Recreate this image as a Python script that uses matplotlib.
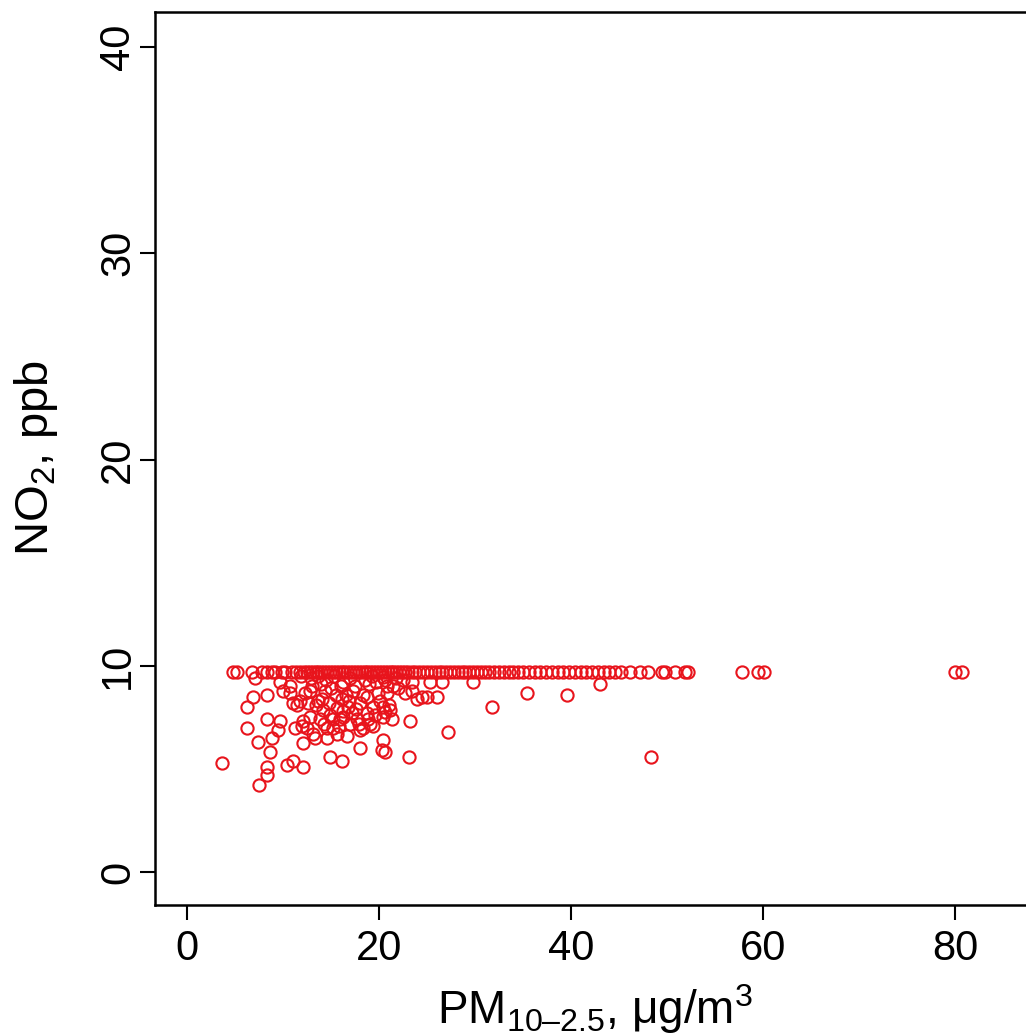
import matplotlib
matplotlib.use("Agg")
import matplotlib.pyplot as plt

plt.rcParams["font.family"] = ["Liberation Sans", "DejaVu Sans"]
plt.rcParams["mathtext.fontset"] = "custom"
plt.rcParams["mathtext.rm"] = "Liberation Sans"
plt.rcParams["mathtext.it"] = "Liberation Sans:italic"
plt.rcParams["mathtext.default"] = "regular"

# NO2 values that sit on the upper cap
cap_level = 9.7
pm_at_cap = [4.8, 5.2, 6.8, 7.8, 8.3, 8.9, 9.2, 9.9, 10.2, 10.9, 11.4, 11.8,
             12.2, 12.5, 12.8, 13.1, 13.4, 13.7, 14.0, 14.3, 14.6, 14.9, 15.2,
             15.5, 15.8, 16.1, 16.4, 16.7, 17.0, 17.3, 17.6, 17.9, 18.2, 18.5,
             18.8, 19.1, 19.4, 19.7, 20.0, 20.3, 20.6, 20.9, 21.2, 21.5, 21.8,
             22.1, 22.4, 22.7, 23.0, 23.4, 23.8, 24.2, 24.6, 25.0, 25.4, 25.8,
             26.2, 26.6, 27.0, 27.4, 27.8, 28.2, 28.6, 29.0, 29.4, 29.8, 30.2,
             30.6, 31.0, 31.5, 32.0, 32.5, 33.0, 33.5, 34.0, 34.5, 35.0, 35.6,
             36.2, 36.8, 37.4, 38.0, 38.6, 39.2, 39.8, 40.4, 41.0, 41.6, 42.2,
             42.8, 43.4, 44.0, 44.6, 45.2, 46.1, 47.2, 48.0, 49.5, 49.8, 50.8,
             51.9, 52.2, 57.8, 59.5, 60.1, 80.0, 80.7]

# points below the cap
pm_low = [3.6, 6.25, 6.25, 6.9, 7.1, 7.4, 7.5, 8.3, 8.3, 8.3, 8.3, 8.6, 8.9,
          9.5, 9.7, 9.7, 10.0, 10.4, 10.7, 10.7, 11.0, 11.0, 11.3, 11.5, 11.8,
          12.0, 12.1, 12.1, 12.1, 12.3, 12.5, 12.8, 12.8, 13.1, 13.3, 13.6,
          13.9, 14.2, 14.4, 14.6, 14.6, 14.9, 14.9, 15.2, 15.2, 15.6, 15.6,
          15.9, 16.1, 16.1, 16.3, 16.3, 16.7, 16.8, 17.0, 17.3, 17.7, 18.0,
          18.0, 18.0, 18.3, 18.75, 19.1, 19.4, 19.4, 19.9, 20.1, 20.3, 20.4,
          20.4, 20.4, 20.4, 20.6, 20.6, 20.6, 20.8, 20.8, 21.1, 21.4, 21.5,
          22.5, 22.7, 23.2, 23.1, 23.4, 23.4, 24.0, 24.5, 25.0, 25.3, 26.0,
          26.6, 27.2, 29.8, 31.8, 35.4, 39.6, 43.0, 48.3,
          11.9, 12.9, 13.7, 14.5, 15.3, 17.0, 18.5, 19.3, 21.8, 13.0, 14.0,
          15.0, 17.5, 19.0, 16.6, 18.7, 22.0,
          13.4, 14.1, 14.8, 15.5, 16.2, 16.9, 17.6, 18.3, 19.6, 14.3, 15.8,
          17.2, 18.9, 12.6, 21.0, 16.0, 19.7, 17.9]
no2_low = [5.3, 8.0, 7.0, 8.5, 9.4, 6.3, 4.2, 8.6, 7.4, 5.1, 4.7, 5.8, 6.5,
           6.9, 7.3, 9.2, 8.8, 5.2, 9.0, 8.7, 5.4, 8.2, 7.0, 8.1, 8.3,
           7.1, 7.3, 6.25, 5.1, 8.7, 7.0, 8.8, 7.5, 6.7, 6.5, 8.3,
           7.4, 7.85, 8.8, 7.0, 6.5, 7.6, 5.6, 7.0, 7.4, 7.95, 6.7,
           7.4, 8.4, 5.4, 9.2, 7.5, 6.6, 8.0, 7.2, 8.8, 7.4, 8.2,
           6.9, 6.0, 7.0, 7.7, 7.2, 8.0, 7.1, 8.7, 8.3, 5.9, 7.5,
           6.4, 9.45, 8.0, 9.3, 7.75, 5.8, 8.7, 9.0, 7.85, 7.4, 9.0,
           9.3, 8.7, 7.3, 5.6, 8.8, 9.2, 8.4, 8.5, 8.5, 9.2, 8.5,
           9.2, 6.8, 9.2, 8.0, 8.7, 8.6, 9.1, 5.6,
           9.5, 9.4, 9.5, 9.3, 9.5, 9.4, 9.3, 9.5, 9.4, 9.0, 9.1,
           8.9, 9.0, 9.1, 8.6, 8.5, 8.9,
           8.1, 8.4, 8.2, 8.6, 7.8, 8.3, 7.9, 8.6, 7.6, 7.2, 7.1,
           7.7, 7.4, 8.2, 8.1, 9.0, 9.2, 7.2]

x_ticks = [0, 20, 40, 60, 80]
y_ticks = [0, 10, 20, 30, 40]

W, H = 1026, 1036
fig = plt.figure(figsize=(W / 100, H / 100), dpi=100)
ax = fig.add_axes([155 / W, (H - 905) / H, 880 / W, 893 / H])

red = "#e8141c"
ax.plot(pm_at_cap, [cap_level] * len(pm_at_cap), "o", mfc="none", mec=red,
        ms=8.8, mew=1.5)
ax.plot(pm_low, no2_low, "o", mfc="none", mec=red, ms=8.8, mew=1.5)

ax.set_xlim(-3.33, 88.33)
ax.set_ylim(-1.6, 41.7)
ax.set_xticks(x_ticks)
ax.set_yticks(y_ticks)
ax.tick_params(direction="out", length=11, width=1.5, labelsize=30)
ax.tick_params(axis="x", pad=6)
ax.tick_params(axis="y", labelrotation=90, pad=1)
for lab in ax.get_yticklabels():
    lab.set_va("center")
for s in ax.spines.values():
    s.set_linewidth(1.8)

ax.set_xlabel("PM$_{10\u20132.5}$, \u03bcg/m$^3$", fontsize=33)
ax.set_ylabel("NO$_2$, ppb", fontsize=34)
ax.xaxis.set_label_coords((595 - 155) / 880, (905 - 982) / 893)
ax.yaxis.set_label_coords((12 - 155) / 880, (905 - 458) / 893)
ax.yaxis.label.set_va("top")

fig.savefig("out.png", dpi=100)
